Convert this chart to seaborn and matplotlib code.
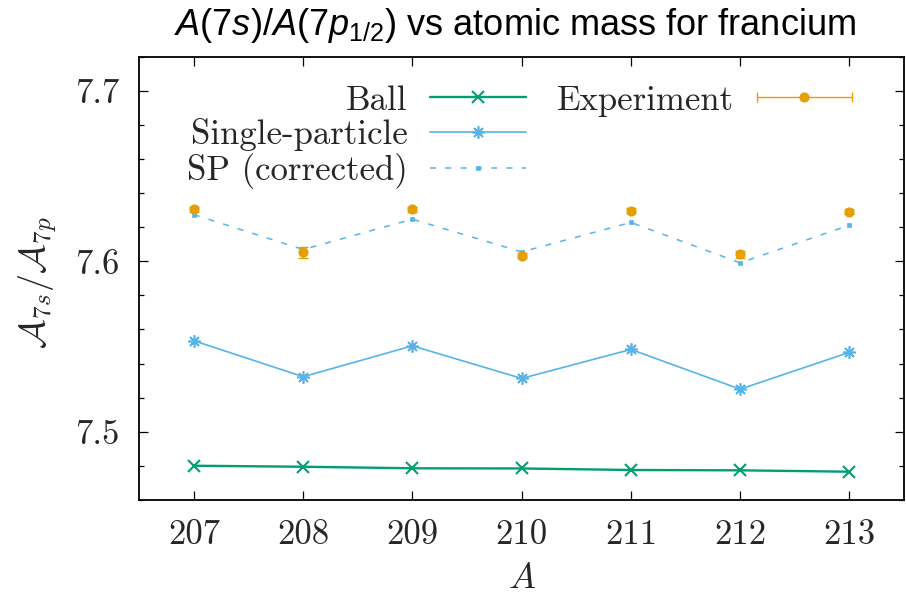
import numpy as np
import pandas as pd
import matplotlib
matplotlib.use("Agg")
import matplotlib.pyplot as plt
import seaborn as sns
from matplotlib.lines import Line2D
from matplotlib.legend_handler import HandlerLine2D, HandlerTuple
from matplotlib.ticker import MultipleLocator

# ---- data ----
mass = [207, 208, 209, 210, 211, 212, 213]
ball = [7.4801, 7.4795, 7.4786, 7.4785, 7.4776, 7.4774, 7.4766]
single_particle = [7.5534, 7.5323, 7.5504, 7.5313, 7.5483, 7.5250, 7.5466]
sp_corrected = [7.6274, 7.6069, 7.6247, 7.6055, 7.6228, 7.5991, 7.6212]
experiment = [7.6306, 7.6052, 7.6304, 7.6034, 7.6296, 7.6042, 7.6290]
experiment_err = [0.0015, 0.0030, 0.0015, 0.0015, 0.0015, 0.0020, 0.0015]
ytick_vals = [7.5, 7.6, 7.7]
ytick_labels = ["7.5", "7.6", "7.7"]
xtick_labels = [str(m) for m in mass]

series_labels = ["Ball", "Single-particle", "SP (corrected)", "Experiment"]
title_math = r"$\mathit{A(7s)/A(7p_{1/2})}$"
title_rest = " vs atomic mass for francium"

GREEN = "#009e73"
BLUE = "#56b4e9"
ORANGE = "#e69f00"

sns.set_style("ticks")
plt.rcParams["mathtext.fontset"] = "custom"
plt.rcParams["mathtext.it"] = "Liberation Sans:italic"
plt.rcParams["mathtext.rm"] = "Liberation Sans"
plt.rcParams["mathtext.sf"] = "Liberation Sans"
plt.rcParams["font.family"] = ["Liberation Sans", "DejaVu Sans"]

df = pd.DataFrame({"mass": mass, "ball": ball, "sp": single_particle,
                   "spc": sp_corrected, "exp": experiment, "err": experiment_err})

fig = plt.figure(figsize=(9.06, 6.01), dpi=100)
ax = fig.add_axes([139.3 / 906, 1 - 500 / 601, (904 - 139.3) / 906, (500 - 56.7) / 601])

sns.lineplot(data=df, x="mass", y="ball", ax=ax, color=GREEN, lw=1.7,
             marker="x", markersize=8, markeredgewidth=1.5, markeredgecolor=GREEN,
             legend=False)
sns.lineplot(data=df, x="mass", y="sp", ax=ax, color=BLUE, lw=1.2,
             marker=(8, 2, 0), markersize=9, markeredgewidth=1.2, markeredgecolor=BLUE,
             legend=False)
sns.lineplot(data=df, x="mass", y="spc", ax=ax, color=BLUE, lw=1.1,
             linestyle=(0, (4, 6)), marker="s", markersize=3.5, markeredgewidth=0.5,
             markeredgecolor=BLUE, legend=False)
ax.errorbar(df["mass"], df["exp"], yerr=df["err"], fmt="o", color=ORANGE,
            ms=6.3, capsize=3.5, elinewidth=1.0, capthick=1.0, zorder=5)

ax.set_xlim(206.5, 213.5)
ax.set_ylim(7.46, 7.72)

ax.set_xticks(mass)
ax.set_xticklabels(xtick_labels, fontfamily="cmr10", fontsize=25)
ax.set_yticks(ytick_vals)
ax.set_yticklabels(ytick_labels, fontfamily="cmr10", fontsize=25)
ax.yaxis.set_minor_locator(MultipleLocator(0.02))
ax.tick_params(axis="both", which="major", direction="in", length=6.5, width=0.9,
               top=True, right=True, color="black")
ax.tick_params(axis="y", which="minor", direction="in", length=3.3, width=0.9,
               right=True, left=True, color="black")
ax.tick_params(axis="x", which="major", pad=14)
ax.tick_params(axis="y", which="major", pad=14)
for s in ax.spines.values():
    s.set_linewidth(1.3)
    s.set_color("black")
    s.set_visible(True)

ax.set_xlabel("$A$", fontsize=26, math_fontfamily="cm")
ax.xaxis.label.set_va("center")
ax.xaxis.set_label_coords(0.5, (500 - 579) / 443.3)
ax.set_ylabel(r"$\mathcal{A}_{7s}/\mathcal{A}_{7p}$", fontsize=26, math_fontfamily="cm")
ax.yaxis.label.set_va("center")
ax.yaxis.set_label_coords((38 - 139.3) / 764.7, (500 - 283) / 443.3)

fig.text(515 / 906, 1 - 35 / 601, title_math + title_rest, ha="center", va="baseline",
         fontsize=26, color="black")

# legend
h_ball = Line2D([], [], color=GREEN, lw=1.7, marker="x", ms=8, mew=1.5)
h_sp = Line2D([], [], color=BLUE, lw=1.2, marker=(8, 2, 0), ms=9, mew=1.2)
h_spc = Line2D([], [], color=BLUE, lw=1.1, ls=(0, (4, 6)), marker="s", ms=3.5, mew=0.5)
h_caps = Line2D([], [], color=ORANGE, lw=1.0, marker="|", ms=7, mew=1.0)
h_pt = Line2D([], [], color=ORANGE, ls="none", marker="o", ms=6.3)
h_blank = Line2D([], [], alpha=0)
handles = [h_ball, h_sp, h_spc, (h_caps, h_pt), h_blank, h_blank]
labels = series_labels + ["", ""]
leg = ax.legend(handles, labels, ncol=2, markerfirst=False, frameon=False,
                loc="upper right", bbox_to_anchor=(852 / 906, 1 - 85 / 601),
                bbox_transform=fig.transFigure, borderpad=0, borderaxespad=0,
                handlelength=2.75, handletextpad=0.65, columnspacing=0.9,
                labelspacing=0.05, numpoints=1,
                prop={"family": "cmr10", "size": 25},
                handler_map={h_caps: HandlerLine2D(numpoints=2, marker_pad=0),
                             tuple: HandlerTuple(ndivide=1)})

fig.savefig("out.png", dpi=100)
